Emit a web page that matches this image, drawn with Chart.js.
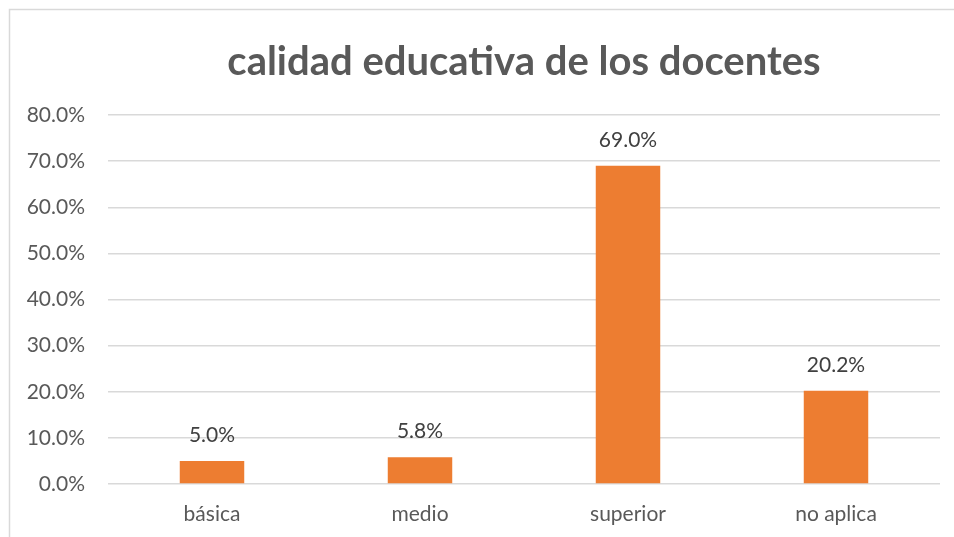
<!DOCTYPE html>
<html>
<head>
<meta charset="utf-8">
<script src="https://cdn.jsdelivr.net/npm/chart.js@4/dist/chart.umd.min.js"></script>
<style>
html,body{margin:0;padding:0;background:#fff;}
#wrap{width:954px;height:537px;position:relative;}
</style>
</head>
<body>
<div id="wrap"><canvas id="c" width="954" height="537"></canvas></div>
<script>
const categories = ["básica", "medio", "superior", "no aplica"];
const values = [5.0, 5.8, 69.0, 20.2];
const yTicks = [0, 10, 20, 30, 40, 50, 60, 70, 80];
const chartTitle = "calidad educativa de los docentes";

const FONT = "Lato, 'Open Sans', sans-serif";

const frame = {
  id: 'frame',
  beforeDraw(chart) {
    const ctx = chart.ctx;
    ctx.save();
    ctx.fillStyle = '#fff';
    ctx.fillRect(0, 0, chart.width, chart.height);
    ctx.strokeStyle = '#d9d9d9';
    ctx.lineWidth = 1.5;
    ctx.strokeRect(9.5, 9.5, chart.width + 20, chart.height + 20);
    ctx.restore();
  }
};

const dataLabels = {
  id: 'dataLabels',
  afterDatasetsDraw(chart) {
    const ctx = chart.ctx;
    const meta = chart.getDatasetMeta(0);
    ctx.save();
    ctx.font = "21px " + FONT;
    ctx.fillStyle = '#404040';
    ctx.textAlign = 'center';
    ctx.textBaseline = 'middle';
    meta.data.forEach((bar, i) => {
      ctx.fillText(values[i].toFixed(1) + '%', bar.x, bar.y - 26);
    });
    ctx.restore();
  }
};

new Chart(document.getElementById('c'), {
  type: 'bar',
  data: {
    labels: categories,
    datasets: [{
      data: values,
      backgroundColor: '#ED7D31',
      borderWidth: 0,
      categoryPercentage: 1,
      barPercentage: 0.31
    }]
  },
  options: {
    responsive: false,
    animation: false,
    devicePixelRatio: 1,
    layout: { padding: { left: 10, right: 14, top: 0, bottom: 10 } },
    plugins: {
      legend: { display: false },
      tooltip: { enabled: false },
      title: {
        display: true,
        fullSize: false,
        text: chartTitle,
        color: '#595959',
        font: { family: FONT, size: 40, weight: 'bold' },
        padding: { top: 38, bottom: 29 }
      }
    },
    scales: {
      x: {
        afterFit(scale) { scale.height = 43; },
        grid: { display: false, drawTicks: false },
        border: { display: false },
        ticks: { color: '#595959', font: { family: FONT, size: 21 }, padding: 18, maxRotation: 0 }
      },
      y: {
        min: 0, max: 80,
        afterBuildTicks(scale) { scale.ticks = yTicks.map(v => ({ value: v })); },
        afterFit(scale) { scale.width = 98; },
        grid: { color: '#d9d9d9', lineWidth: 1.5, drawTicks: false },
        border: { display: false },
        ticks: {
          color: '#595959',
          font: { family: FONT, size: 21 },
          padding: 23,
          callback: v => v.toFixed(1) + '%'
        }
      }
    }
  },
  plugins: [frame, dataLabels]
});
</script>
</body>
</html>
